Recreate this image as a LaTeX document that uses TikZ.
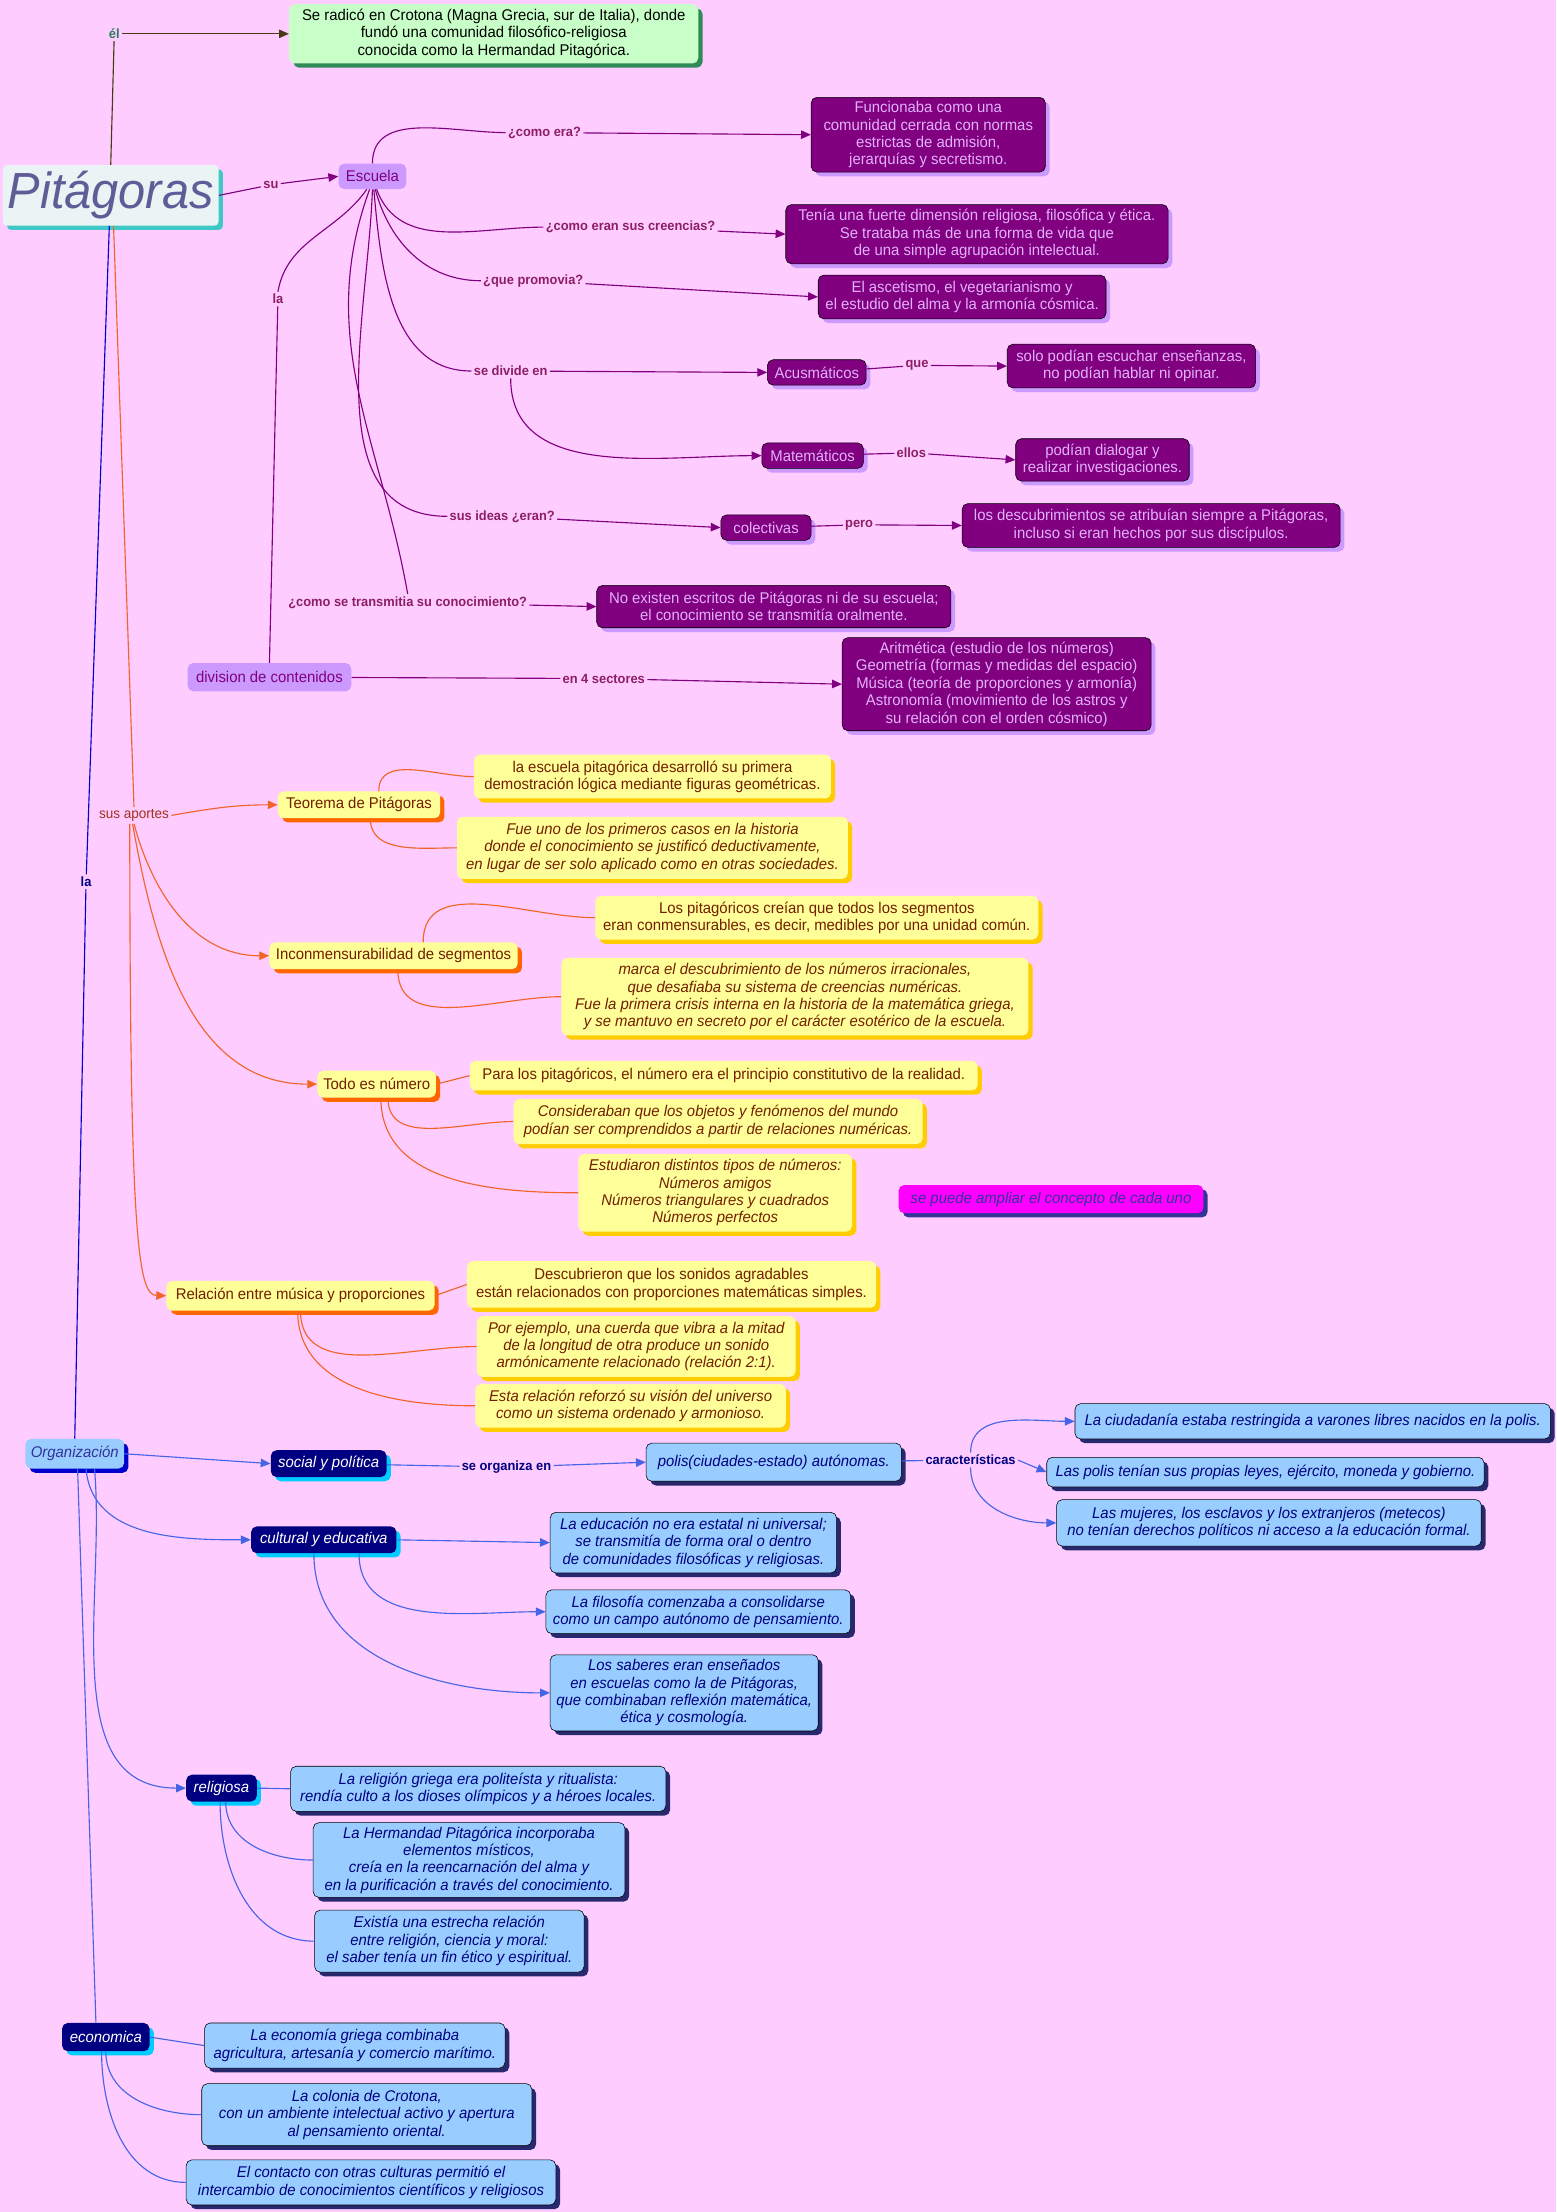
\documentclass[tikz,border=0pt]{standalone}
\usepackage{fontspec}
\setmainfont{Liberation Sans}[FakeStretch=0.96]
\usepackage{tikz}
\usetikzlibrary{arrows.meta, shadows, positioning}
\definecolor{bgPink}{RGB}{255,204,255}
\definecolor{titleFill}{RGB}{234,244,244}
\definecolor{titleText}{RGB}{96,92,152}
\definecolor{titleShadow}{RGB}{64,200,200}
\definecolor{greenFill}{RGB}{200,255,200}
\definecolor{greenShadow}{RGB}{46,139,87}
\definecolor{elGreen}{RGB}{46,125,90}
\definecolor{darkOlive}{RGB}{72,58,20}
\definecolor{lightPurple}{RGB}{204,153,255}
\definecolor{darkPurple}{RGB}{128,0,128}
\definecolor{purpleText}{RGB}{228,176,250}
\definecolor{labPurple}{RGB}{140,30,100}
\definecolor{yellowFill}{RGB}{255,255,153}
\definecolor{yellowShadow}{RGB}{255,204,0}
\definecolor{orangeLine}{RGB}{240,100,40}
\definecolor{orangeShadow}{RGB}{255,102,0}
\definecolor{brownText}{RGB}{115,30,0}
\definecolor{aportesText}{RGB}{160,50,30}
\definecolor{magentaFill}{RGB}{255,0,255}
\definecolor{slateBlue}{RGB}{51,51,153}
\definecolor{orgFill}{RGB}{153,204,255}
\definecolor{orgShadow}{RGB}{0,0,204}
\definecolor{navyFill}{RGB}{0,0,128}
\definecolor{cyanShadow}{RGB}{0,204,255}
\definecolor{navyShadow}{RGB}{40,40,110}
\definecolor{royalLine}{RGB}{70,100,230}
\definecolor{deepBlue}{RGB}{0,0,204}
\tikzstyle{pline}  = [draw=darkPurple, line width=0.8pt]
\tikzstyle{parrow} = [pline, -{Triangle[length=7pt,width=6pt]}]
\tikzstyle{oline}  = [draw=orangeLine, line width=0.8pt]
\tikzstyle{oarrow} = [oline, -{Triangle[length=7pt,width=6pt]}]
\tikzstyle{bline}  = [draw=royalLine, line width=0.8pt]
\tikzstyle{barrow} = [bline, -{Triangle[length=7pt,width=6pt]}]

\begin{document}
\begin{tikzpicture}[x=1pt, y=1pt,
  txt/.style={font=\fontsize{11}{12.3}\selectfont, align=center, inner sep=2pt},
  sz/.style 2 args={minimum width=#1pt, minimum height=#2pt},
  backshadow/.style={drop shadow={shadow xshift=3pt, shadow yshift=-3pt, opacity=1, fill=#1}},
  titlebox/.style={fill=titleFill, text=titleText, rounded corners=3pt, backshadow=titleShadow, font=\fontsize{36}{40}\selectfont\itshape, inner sep=2pt},
  greenbox/.style={txt, fill=greenFill, rounded corners=4pt, backshadow=greenShadow},
  lpbox/.style={txt, fill=lightPurple, text=darkPurple, rounded corners=4pt},
  dpbox/.style={txt, draw=black, fill=darkPurple, text=purpleText, rounded corners=4pt, backshadow=lightPurple},
  obox/.style={txt, fill=yellowFill, text=brownText, rounded corners=4pt, backshadow=orangeShadow},
  ybox/.style={txt, fill=yellowFill, text=brownText, rounded corners=4pt, backshadow=yellowShadow},
  navybox/.style={txt, fill=navyFill, text=white, rounded corners=4pt, backshadow=cyanShadow, font=\fontsize{11}{12.3}\selectfont\itshape},
  bbox/.style={txt, draw=black, fill=orgFill, text=navyFill, rounded corners=4pt, backshadow=navyShadow, font=\fontsize{11}{12.3}\selectfont\itshape},
  plabel/.style={font=\fontsize{9.5}{10}\selectfont\bfseries, text=labPurple, inner sep=1.5pt},
  blabel/.style={font=\fontsize{9.5}{10}\selectfont\bfseries, text=navyFill, inner sep=1.5pt}
]
\useasboundingbox[fill=bgPink] (0,0) rectangle (1103,-1568);

% Pitagoras
\node[titlebox, sz={153}{43}] (title) at (78.5,-138.5) {Pitágoras};
\node[font=\fontsize{9.5}{10}\selectfont\bfseries, text=elGreen, inner sep=1.5pt] (el) at (81,-24) {él};
\node[greenbox, sz={290}{42}] (green) at (350,-24)
  {Se radicó en Crotona (Magna Grecia, sur de Italia), donde\\fundó una comunidad filosófico-religiosa\\conocida como la Hermandad Pitagórica.};
\draw[draw=darkOlive, line width=0.8pt] (title.north) -- (el);
\draw[draw=darkOlive, line width=0.8pt, -{Triangle[length=7pt,width=6pt]}] (el) -- (green.west);

% Escuela
\node[plabel] (su) at (192,-131) {su};
\node[lpbox, sz={48}{18}] (escuela) at (264,-125) {Escuela};
\node[plabel] (cera) at (386,-94) {¿como era?};
\node[dpbox, sz={166}{53}] (f1) at (658,-95.5)
  {Funcionaba como una\\comunidad cerrada con normas\\estrictas de admisión,\\jerarquías y secretismo.};
\node[plabel] (creen) at (447,-161) {¿como eran sus creencias?};
\node[dpbox, sz={271}{42}] (f2) at (692.5,-166)
  {Tenía una fuerte dimensión religiosa, filosófica y ética.\\Se trataba más de una forma de vida que\\de una simple agrupación intelectual.};
\node[plabel] (promo) at (378,-199) {¿que promovia?};
\node[dpbox, sz={204}{31}] (f3) at (682,-210.5)
  {El ascetismo, el vegetarianismo y\\el estudio del alma y la armonía cósmica.};
\node[plabel] (divide) at (362,-263) {se divide en};
\node[dpbox, sz={70}{18}] (acus) at (579,-264) {Acusmáticos};
\node[plabel] (que) at (650,-259) {que};
\node[dpbox, sz={176}{31}] (f4) at (802,-259.5)
  {solo podían escuchar enseñanzas,\\no podían hablar ni opinar.};
\node[dpbox, sz={72}{18}] (mate) at (576,-323) {Matemáticos};
\node[plabel] (ellos) at (646,-321) {ellos};
\node[dpbox, sz={123}{30}] (f5) at (781.5,-326)
  {podían dialogar y\\realizar investigaciones.};
\node[plabel] (ideas) at (356,-366) {sus ideas ¿eran?};
\node[dpbox, sz={64}{18}] (colect) at (543,-374) {colectivas};
\node[plabel] (pero) at (609,-372) {pero};
\node[dpbox, sz={268}{31}] (f6) at (816,-372.5)
  {los descubrimientos se atribuían siempre a Pitágoras,\\incluso si eran hechos por sus discípulos.};
\node[plabel] (transm) at (289,-427) {¿como se transmitia su conocimiento?};
\node[dpbox, sz={251}{30}] (f7) at (548.5,-430)
  {No existen escritos de Pitágoras ni de su escuela;\\el conocimiento se transmitía oralmente.};
\node[plabel] (la1) at (197,-212) {la};
\node[lpbox, sz={116}{20}] (division) at (191,-480) {division de contenidos};
\node[plabel] (sect4) at (428,-481) {en 4 sectores};
\node[dpbox, sz={219}{66}] (f8) at (706.5,-485)
  {Aritmética (estudio de los números)\\Geometría (formas y medidas del espacio)\\Música (teoría de proporciones y armonía)\\Astronomía (movimiento de los astros y\\su relación con el orden cósmico)};

\draw[pline] (title.east) -- (su);
\draw[parrow] (su) -- (escuela.west);
\draw[pline] (escuela.north) to[out=90,in=180] (cera.west);
\draw[parrow] (cera) -- (f1.west);
\draw[pline] ([xshift=3pt]escuela.south) to[out=-70,in=180] (creen.west);
\draw[parrow] (creen) -- (f2.west);
\draw[pline] ([xshift=2pt]escuela.south) to[out=-75,in=180] (promo.west);
\draw[parrow] (promo) -- (f3.west);
\draw[pline] ([xshift=1pt]escuela.south) to[out=-85,in=180] (divide.west);
\draw[parrow] (divide) -- (acus.west);
\draw[pline] (acus) -- (que);
\draw[parrow] (que) -- (f4.west);
\draw[parrow] (divide.south) to[out=-90,in=180] (mate.west);
\draw[pline] (mate) -- (ellos);
\draw[parrow] (ellos) -- (f5.west);
\draw[pline] (escuela.south) to[out=-92,in=180] (ideas.west);
\draw[parrow] (ideas) -- (colect.west);
\draw[pline] (colect) -- (pero);
\draw[parrow] (pero) -- (f6.west);
\draw[pline] ([xshift=-2pt]escuela.south) to[out=-110,in=100] (transm.north);
\draw[parrow] (transm) -- (f7.west);
\draw[pline] ([xshift=-4pt]escuela.south) to[out=-125,in=80] (la1.north);
\draw[pline] (la1) -- (division.north);
\draw[pline] (division) -- (sect4);
\draw[parrow] (sect4) -- (f8.west);

% sus aportes
\node[font=\fontsize{10}{11}\selectfont, text=aportesText, inner sep=1.5pt] (aportes) at (95,-578) {sus aportes};
\node[obox, sz={115}{19}] (teorema) at (254.5,-570.5) {Teorema de Pitágoras};
\node[ybox, sz={253}{31}] (ya) at (462.5,-550.5)
  {la escuela pitagórica desarrolló su primera\\demostración lógica mediante figuras geométricas.};
\node[ybox, sz={277}{44}, font=\fontsize{11}{12.3}\selectfont\itshape] (yb) at (462.5,-601)
  {Fue uno de los primeros casos en la historia\\donde el conocimiento se justificó deductivamente,\\en lugar de ser solo aplicado como en otras sociedades.};
\node[obox, sz={176}{19}] (incon) at (279,-677.5) {Inconmensurabilidad de segmentos};
\node[ybox, sz={314}{31}] (yc) at (579,-650.5)
  {Los pitagóricos creían que todos los segmentos\\eran conmensurables, es decir, medibles por una unidad común.};
\node[ybox, sz={331}{55}, font=\fontsize{11}{12.3}\selectfont\itshape] (yd) at (563.5,-706.5)
  {marca el descubrimiento de los números irracionales,\\que desafiaba su sistema de creencias numéricas.\\Fue la primera crisis interna en la historia de la matemática griega,\\y se mantuvo en secreto por el carácter esotérico de la escuela.};
\node[obox, sz={84}{19}] (todo) at (267,-768.5) {Todo es número};
\node[ybox, sz={360}{21}] (ye) at (513,-762.5)
  {Para los pitagóricos, el número era el principio constitutivo de la realidad.};
\node[ybox, sz={290}{32}, font=\fontsize{11}{12.3}\selectfont\itshape] (yf) at (509,-795)
  {Consideraban que los objetos y fenómenos del mundo\\podían ser comprendidos a partir de relaciones numéricas.};
\node[ybox, sz={194}{55}, font=\fontsize{11}{12.3}\selectfont\itshape] (yg) at (507,-845.5)
  {Estudiaron distintos tipos de números:\\Números amigos\\Números triangulares y cuadrados\\Números perfectos};
\node[obox, sz={190}{21}] (relac) at (213,-918.5) {Relación entre música y proporciones};
\node[ybox, sz={290}{33}] (yh) at (476,-910.5)
  {Descubrieron que los sonidos agradables\\están relacionados con proporciones matemáticas simples.};
\node[ybox, sz={226}{43}, font=\fontsize{11}{12.3}\selectfont\itshape] (yi) at (451,-954.5)
  {Por ejemplo, una cuerda que vibra a la mitad\\de la longitud de otra produce un sonido\\armónicamente relacionado (relación 2:1).};
\node[ybox, sz={220}{31}, font=\fontsize{11}{12.3}\selectfont\itshape] (yj) at (447,-996.5)
  {Esta relación reforzó su visión del universo\\como un sistema ordenado y armonioso.};
\node[txt, fill=magentaFill, text=slateBlue, rounded corners=4pt, backshadow=slateBlue, sz={216}{20}, font=\fontsize{11}{12.3}\selectfont\itshape] (ampliar) at (745,-850)
  {se puede ampliar el concepto de cada uno};

\draw[oline] ([xshift=2pt]title.south) -- (aportes.north);
\draw[oarrow] (aportes.east) to[out=10,in=180] (teorema.west);
\draw[oarrow] (aportes.south) to[out=-75,in=180] (incon.west);
\draw[oarrow] ([xshift=-1pt]aportes.south) to[out=-80,in=180] (todo.west);
\draw[oarrow] ([xshift=-3pt]aportes.south) .. controls (92,-880) and (98,-918) .. (relac.west);
\draw[oline] ([xshift=14pt]teorema.north) to[out=90,in=180] (ya.west);
\draw[oline] ([xshift=8pt]teorema.south) to[out=-90,in=180] (yb.west);
\draw[oline] ([xshift=21pt]incon.north) to[out=90,in=180] (yc.west);
\draw[oline] ([xshift=3pt]incon.south) to[out=-90,in=180] (yd.west);
\draw[oline] (todo.east) -- (ye.west);
\draw[oline] ([xshift=8pt]todo.south) to[out=-90,in=180] (yf.west);
\draw[oline] ([xshift=3pt]todo.south) to[out=-90,in=180] (yg.west);
\draw[oline] (relac.east) -- (yh.west);
\draw[oline] (relac.south) to[out=-90,in=180] (yi.west);
\draw[oline] ([xshift=-2pt]relac.south) to[out=-90,in=180] (yj.west);

% Organizacion
\node[blabel] (la2) at (61,-625) {la};
\node[txt, fill=orgFill, text=slateBlue, rounded corners=4pt, backshadow=orgShadow, sz={70}{21}, font=\fontsize{11}{12.3}\selectfont\itshape] (org) at (53,-1030.5) {Organización};
\node[navybox, sz={82}{19}] (social) at (233,-1037.5) {social y política};
\node[blabel] (organiza) at (359,-1040) {se organiza en};
\node[bbox, sz={181}{27}] (polis) at (548.5,-1036.5) {polis(ciudades-estado) autónomas.};
\node[blabel] (caract) at (688,-1035) {características};
\node[bbox, sz={337}{25}] (bk) at (930.5,-1007.5)
  {La ciudadanía estaba restringida a varones libres nacidos en la polis.};
\node[bbox, sz={310}{21}] (bl) at (897,-1043.5)
  {Las polis tenían sus propias leyes, ejército, moneda y gobierno.};
\node[bbox, sz={301}{33}] (bm) at (899.5,-1079.5)
  {Las mujeres, los esclavos y los extranjeros (metecos)\\no tenían derechos políticos ni acceso a la educación formal.};
\node[navybox, sz={103}{19}] (cultural) at (229.5,-1091.5) {cultural y educativa};
\node[bbox, sz={203}{43}] (bn) at (491.5,-1093.5)
  {La educación no era estatal ni universal;\\se transmitía de forma oral o dentro\\de comunidades filosóficas y religiosas.};
\node[bbox, sz={216}{31}] (bo) at (495,-1142.5)
  {La filosofía comenzaba a consolidarse\\como un campo autónomo de pensamiento.};
\node[bbox, sz={190}{54}] (bp) at (485,-1200)
  {Los saberes eran enseñados\\en escuelas como la de Pitágoras,\\que combinaban reflexión matemática,\\ética y cosmología.};
\node[navybox, sz={50}{19}] (relig) at (157,-1267.5) {religiosa};
\node[bbox, sz={266}{32}] (bq) at (339,-1268)
  {La religión griega era politeísta y ritualista:\\rendía culto a los dioses olímpicos y a héroes locales.};
\node[bbox, sz={221}{53}] (br) at (332.5,-1318.5)
  {La Hermandad Pitagórica incorporaba\\elementos místicos,\\creía en la reencarnación del alma y\\en la purificación a través del conocimiento.};
\node[bbox, sz={191}{44}] (bs) at (318.5,-1376)
  {Existía una estrecha relación\\entre religión, ciencia y moral:\\el saber tenía un fin ético y espiritual.};
\node[navybox, sz={62}{20}] (econ) at (75,-1444) {economica};
\node[bbox, sz={213}{32}] (bt) at (251.5,-1450)
  {La economía griega combinaba\\agricultura, artesanía y comercio marítimo.};
\node[bbox, sz={234}{44}] (bu) at (260,-1499)
  {La colonia de Crotona,\\con un ambiente intelectual activo y apertura\\al pensamiento oriental.};
\node[bbox, sz={262}{32}] (bv) at (263,-1547)
  {El contacto con otras culturas permitió el\\intercambio de conocimientos científicos y religiosos};

\draw[draw=deepBlue, line width=0.8pt] ([xshift=-1pt]title.south) -- (la2) -- (org.north);
\draw[barrow] (org.east) -- (social.west);
\draw[bline] (social) -- (organiza);
\draw[barrow] (organiza) -- (polis.west);
\draw[bline] (polis) -- (caract);
\draw[barrow] (caract.north) to[out=90,in=180] (bk.west);
\draw[barrow] (caract.east) -- (bl.west);
\draw[barrow] (caract.south) to[out=-90,in=180] (bm.west);
\draw[barrow] ([xshift=8pt]org.south) to[out=-85,in=180] (cultural.west);
\draw[barrow] (cultural.east) -- (bn.west);
\draw[barrow] ([xshift=25pt]cultural.south) to[out=-90,in=180] (bo.west);
\draw[barrow] ([xshift=-7pt]cultural.south) to[out=-90,in=180] (bp.west);
\draw[barrow] ([xshift=14pt]org.south) to[out=-85,in=180] (relig.west);
\draw[bline] (relig.east) -- (bq.west);
\draw[bline] ([xshift=3pt]relig.south) to[out=-90,in=180] (br.west);
\draw[bline] ([xshift=-1pt]relig.south) to[out=-90,in=180] (bs.west);
\draw[bline] ([xshift=2pt]org.south) -- ([xshift=-7pt]econ.north);
\draw[bline] (econ.east) -- (bt.west);
\draw[bline] (econ.south) to[out=-90,in=180] (bu.west);
\draw[bline] ([xshift=-3pt]econ.south) to[out=-90,in=180] (bv.west);

\end{tikzpicture}
\end{document}
